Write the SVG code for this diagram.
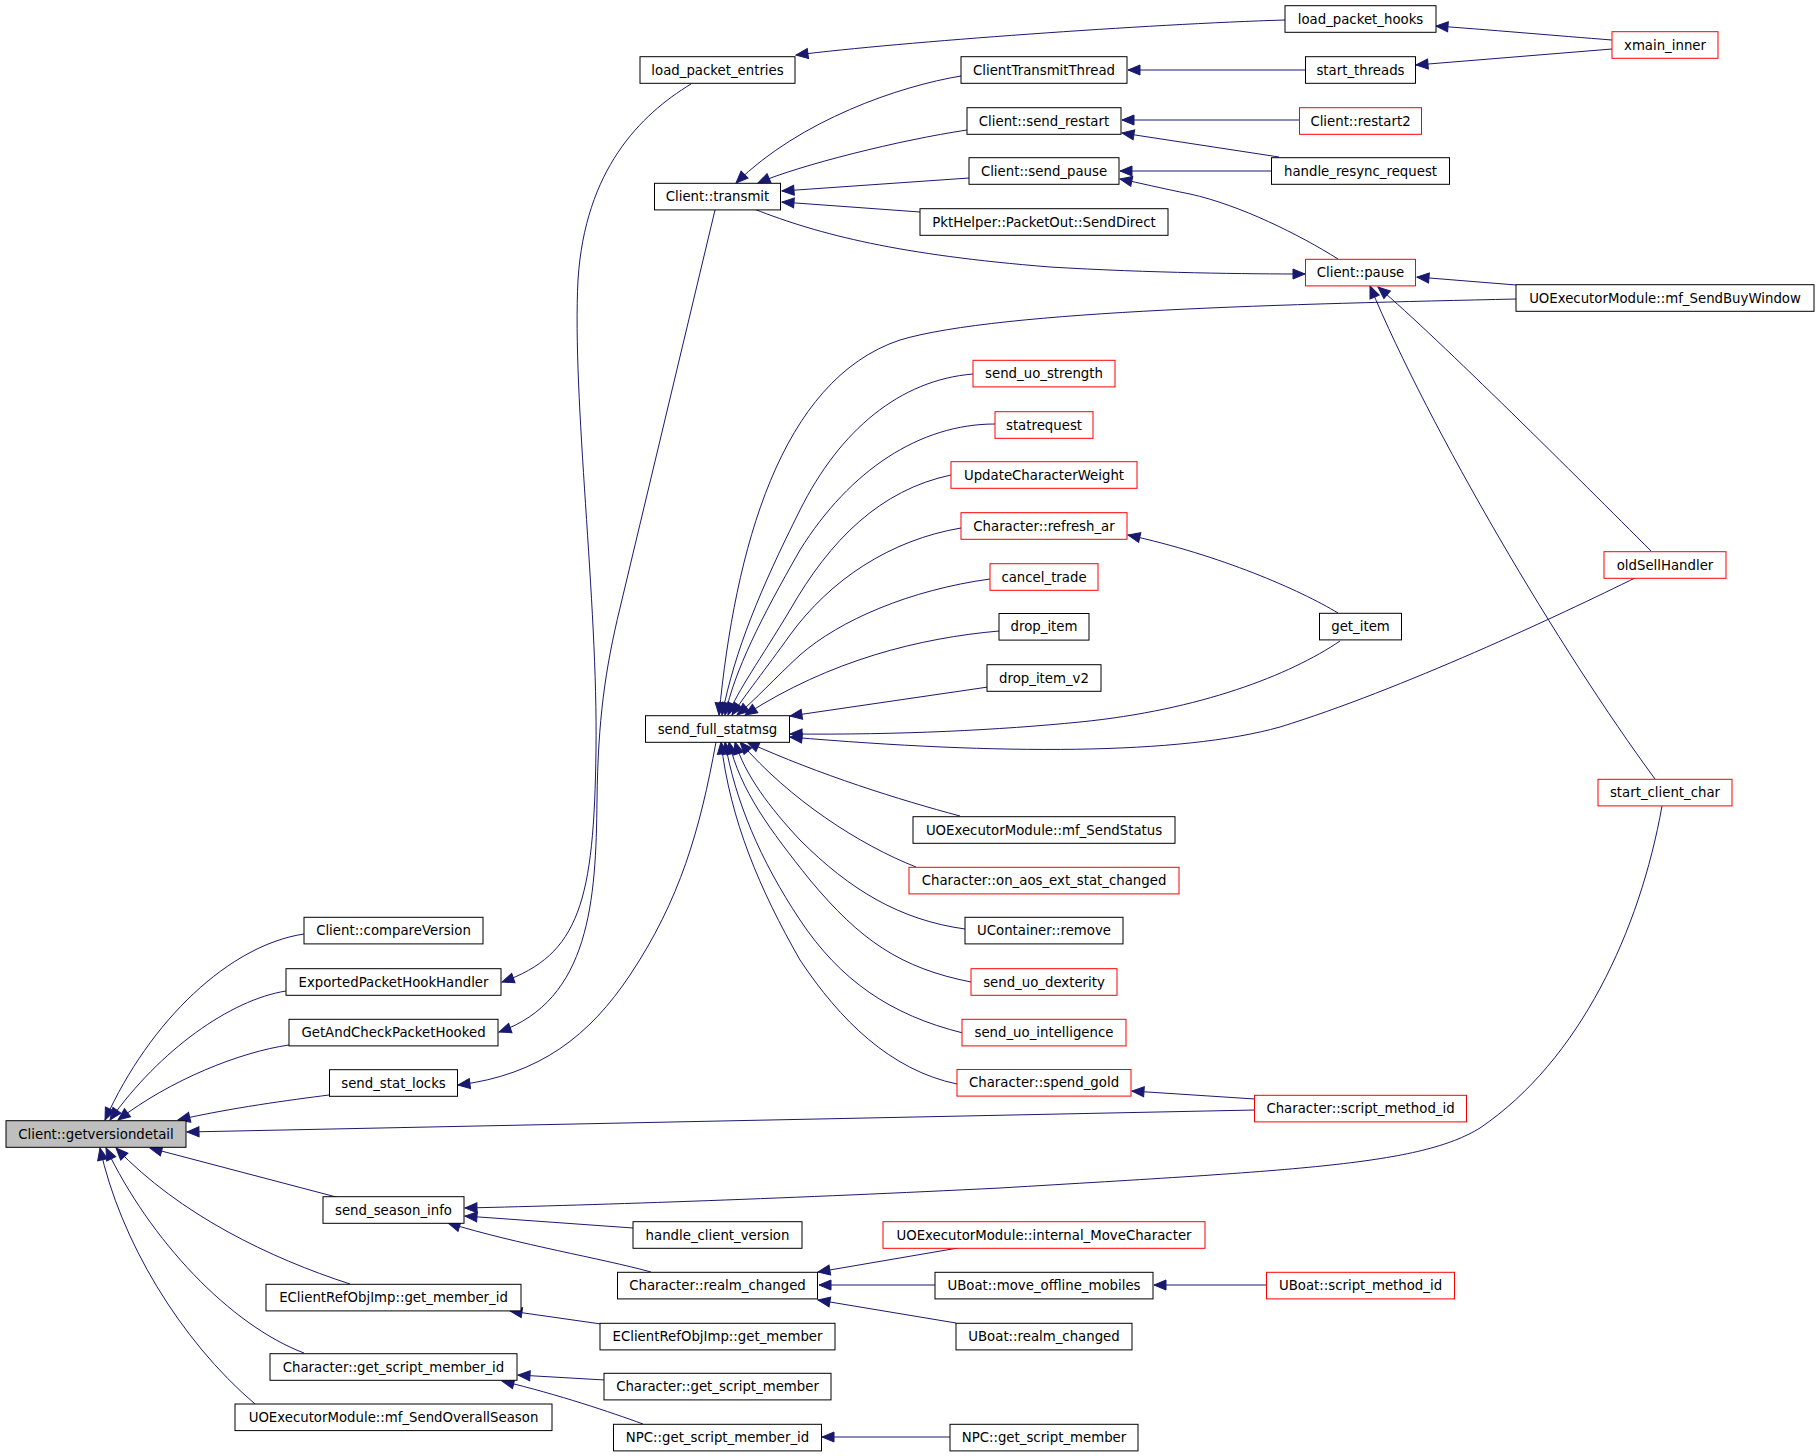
<svg xmlns="http://www.w3.org/2000/svg" width="1819" height="1456" viewBox="0 0 1819 1456">
<style>
.nd rect{fill:#fff;stroke:#000;stroke-width:1}
.nd.red rect{stroke:#f00}
.nd.cur rect{fill:#bfbfbf}
.nd text{font-family:"DejaVu Sans","Liberation Sans",sans-serif;font-size:13.3px;text-anchor:middle;fill:#000}
#edges path{fill:none;stroke:#191970;stroke-width:1;marker-end:url(#arr)}
</style>
<defs>
<marker id="arr" markerUnits="userSpaceOnUse" markerWidth="14" markerHeight="12" refX="12" refY="5" orient="auto" overflow="visible">
<path d="M0,0 L12,5 L0,10 Z" fill="#191970" stroke="#191970" stroke-width="1"/>
</marker>
</defs>
<rect x="0" y="0" width="1819" height="1456" fill="#fff"/>
<g id="edges">
<path d="M1285,20 C1150,24 900,42 796,55"/>
<path d="M1612,40 C1560,36 1480,29 1436,26"/>
<path d="M1612,49 L1416,65"/>
<path d="M1305,70 L1128,70"/>
<path d="M961,76 C900,86 800,120 736,183"/>
<path d="M967,130 C900,140 800,165 758,183"/>
<path d="M969,178 L782,191"/>
<path d="M920,212 L782,202"/>
<path d="M754,209 C820,235 900,255 1050,267 C1150,273 1250,274 1305,274"/>
<path d="M1300,120 L1122,120"/>
<path d="M1279,157 L1122,133"/>
<path d="M1272,171 L1120,171"/>
<path d="M1338,259 C1300,235 1240,205 1190,194 C1160,188 1140,183 1120,179"/>
<path d="M1516,285 L1417,277"/>
<path d="M1651,551 C1580,480 1440,340 1378,287"/>
<path d="M1655,779 C1560,650 1430,430 1370,286"/>
<path d="M1516,299 C1300,304 1000,310 900,340 C780,380 735,550 719,715"/>
<path d="M973,374 C900,380 840,430 800,510 C760,590 735,650 722,715"/>
<path d="M995,424 C920,424 850,470 800,550 C760,620 735,670 725,715"/>
<path d="M951,475 C880,490 830,540 790,610 C760,660 738,690 728,715"/>
<path d="M961,528 C890,540 830,580 790,635 C765,670 745,695 732,715"/>
<path d="M990,579 C910,590 840,620 800,655 C775,678 755,700 737,715"/>
<path d="M999,631 C920,638 830,660 745,715"/>
<path d="M988,687 L790,716"/>
<path d="M1340,641 C1290,675 1200,710 1080,722 C1000,730 900,735 790,734"/>
<path d="M1637,577 C1560,615 1400,690 1280,727 C1180,755 1000,755 790,737"/>
<path d="M1338,613 C1300,590 1220,555 1128,535"/>
<path d="M1255,1099 L1132,1091"/>
<path d="M1255,1110 L187,1132"/>
<path d="M960,816 C900,800 820,775 747,742"/>
<path d="M916,867 C860,845 790,800 740,742"/>
<path d="M965,929 C900,920 850,890 800,840 C770,808 745,775 735,742"/>
<path d="M971,982 C900,968 860,940 810,880 C770,830 740,790 729,742"/>
<path d="M963,1033 C890,1015 840,980 800,920 C760,860 735,800 725,742"/>
<path d="M957,1084 C890,1070 840,1020 800,960 C760,890 730,820 721,742"/>
<path d="M716,742 C700,830 680,900 630,975 C590,1035 540,1075 458,1085"/>
<path d="M691,84 C640,115 585,170 578,280 C572,400 598,600 596,750 C594,900 580,955 502,982"/>
<path d="M715,210 L620,608 C605,670 598,720 597,800 C596,900 590,1000 499,1032"/>
<path d="M304,934 C230,945 150,1020 105,1120"/>
<path d="M286,991 C230,1000 160,1050 110,1120"/>
<path d="M289,1045 C240,1052 170,1080 118,1120"/>
<path d="M329,1095 C290,1100 230,1108 178,1120"/>
<path d="M340,1198 L150,1148"/>
<path d="M350,1284 C270,1258 180,1215 116,1148"/>
<path d="M304,1353 C230,1325 150,1240 106,1148"/>
<path d="M255,1404 C180,1340 120,1240 100,1148"/>
<path d="M1662,806 C1640,930 1580,1060 1480,1128 C1420,1165 1300,1170 1000,1188 C800,1198 600,1205 465,1208"/>
<path d="M633,1228 L465,1216"/>
<path d="M651,1272 C600,1258 520,1245 448,1223"/>
<path d="M958,1248 L818,1272"/>
<path d="M935,1285 L819,1285"/>
<path d="M956,1323 L818,1300"/>
<path d="M1266,1285 L1154,1285"/>
<path d="M601,1324 L510,1311"/>
<path d="M605,1380 L518,1375"/>
<path d="M643,1424 C610,1412 560,1395 502,1381"/>
<path d="M950,1437 L822,1437"/>
</g>
<g id="n_getversiondetail" class="nd cur"><rect x="6" y="1120.7" width="180" height="26.6"/><text x="96" y="1138.5">Client::getversiondetail</text></g>
<g id="n_compareVersion" class="nd"><rect x="304" y="917.3" width="179" height="26.6"/><text x="393.5" y="935.1">Client::compareVersion</text></g>
<g id="n_ExportedPacketHookHandler" class="nd"><rect x="286" y="968.7" width="215" height="26.6"/><text x="393.5" y="986.5">ExportedPacketHookHandler</text></g>
<g id="n_GetAndCheckPacketHooked" class="nd"><rect x="289" y="1019.3" width="209" height="26.6"/><text x="393.5" y="1037.1">GetAndCheckPacketHooked</text></g>
<g id="n_send_stat_locks" class="nd"><rect x="329.5" y="1069.7" width="128" height="26.6"/><text x="393.5" y="1087.5">send_stat_locks</text></g>
<g id="n_send_season_info" class="nd"><rect x="323" y="1196.7" width="141" height="26.6"/><text x="393.5" y="1214.5">send_season_info</text></g>
<g id="n_ecr_get_member_id" class="nd"><rect x="266" y="1284.3" width="255" height="26.6"/><text x="393.5" y="1302.1">EClientRefObjImp::get_member_id</text></g>
<g id="n_chr_get_script_member_id" class="nd"><rect x="270" y="1353.7" width="247" height="26.6"/><text x="393.5" y="1371.5">Character::get_script_member_id</text></g>
<g id="n_mf_SendOverallSeason" class="nd"><rect x="235" y="1404" width="317" height="26.6"/><text x="393.5" y="1421.8">UOExecutorModule::mf_SendOverallSeason</text></g>
<g id="n_load_packet_entries" class="nd"><rect x="640" y="56.7" width="155" height="26.6"/><text x="717.5" y="74.5">load_packet_entries</text></g>
<g id="n_transmit" class="nd"><rect x="654.5" y="183.3" width="126" height="26.6"/><text x="717.5" y="201.1">Client::transmit</text></g>
<g id="n_send_full_statmsg" class="nd"><rect x="645.5" y="715.7" width="144" height="26.6"/><text x="717.5" y="733.5">send_full_statmsg</text></g>
<g id="n_handle_client_version" class="nd"><rect x="633" y="1221.7" width="169" height="26.6"/><text x="717.5" y="1239.5">handle_client_version</text></g>
<g id="n_chr_realm_changed" class="nd"><rect x="617.5" y="1272.3" width="200" height="26.6"/><text x="717.5" y="1290.1">Character::realm_changed</text></g>
<g id="n_ecr_get_member" class="nd"><rect x="600" y="1323.3" width="235" height="26.6"/><text x="717.5" y="1341.1">EClientRefObjImp::get_member</text></g>
<g id="n_chr_get_script_member" class="nd"><rect x="604" y="1373.3" width="227" height="26.6"/><text x="717.5" y="1391.1">Character::get_script_member</text></g>
<g id="n_npc_get_script_member_id" class="nd"><rect x="613.5" y="1424.3" width="208" height="26.6"/><text x="717.5" y="1442.1">NPC::get_script_member_id</text></g>
<g id="n_ClientTransmitThread" class="nd"><rect x="961" y="56.7" width="166" height="26.6"/><text x="1044" y="74.5">ClientTransmitThread</text></g>
<g id="n_send_restart" class="nd"><rect x="967" y="107.7" width="154" height="26.6"/><text x="1044" y="125.5">Client::send_restart</text></g>
<g id="n_send_pause" class="nd"><rect x="969" y="157.7" width="150" height="26.6"/><text x="1044" y="175.5">Client::send_pause</text></g>
<g id="n_SendDirect" class="nd"><rect x="920" y="208.7" width="248" height="26.6"/><text x="1044" y="226.5">PktHelper::PacketOut::SendDirect</text></g>
<g id="n_send_uo_strength" class="nd red"><rect x="973" y="360.3" width="142" height="26.6"/><text x="1044" y="378.1">send_uo_strength</text></g>
<g id="n_statrequest" class="nd red"><rect x="995" y="411.7" width="98" height="26.6"/><text x="1044" y="429.5">statrequest</text></g>
<g id="n_UpdateCharacterWeight" class="nd red"><rect x="951" y="461.7" width="186" height="26.6"/><text x="1044" y="479.5">UpdateCharacterWeight</text></g>
<g id="n_refresh_ar" class="nd red"><rect x="961" y="512.7" width="166" height="26.6"/><text x="1044" y="530.5">Character::refresh_ar</text></g>
<g id="n_cancel_trade" class="nd red"><rect x="990" y="563.7" width="108" height="26.6"/><text x="1044" y="581.5">cancel_trade</text></g>
<g id="n_drop_item" class="nd"><rect x="999" y="613.5" width="90" height="26.6"/><text x="1044" y="631.3">drop_item</text></g>
<g id="n_drop_item_v2" class="nd"><rect x="987" y="664.7" width="114" height="26.6"/><text x="1044" y="682.5">drop_item_v2</text></g>
<g id="n_mf_SendStatus" class="nd"><rect x="913" y="816.7" width="262" height="26.6"/><text x="1044" y="834.5">UOExecutorModule::mf_SendStatus</text></g>
<g id="n_on_aos_ext_stat_changed" class="nd red"><rect x="909" y="867.3" width="270" height="26.6"/><text x="1044" y="885.1">Character::on_aos_ext_stat_changed</text></g>
<g id="n_UContainer_remove" class="nd"><rect x="965" y="917.3" width="158" height="26.6"/><text x="1044" y="935.1">UContainer::remove</text></g>
<g id="n_send_uo_dexterity" class="nd red"><rect x="971" y="968.7" width="146" height="26.6"/><text x="1044" y="986.5">send_uo_dexterity</text></g>
<g id="n_send_uo_intelligence" class="nd red"><rect x="962" y="1019.3" width="164" height="26.6"/><text x="1044" y="1037.1">send_uo_intelligence</text></g>
<g id="n_spend_gold" class="nd red"><rect x="957" y="1069.5" width="174" height="26.6"/><text x="1044" y="1087.3">Character::spend_gold</text></g>
<g id="n_internal_MoveCharacter" class="nd red"><rect x="883" y="1221.7" width="322" height="26.6"/><text x="1044" y="1239.5">UOExecutorModule::internal_MoveCharacter</text></g>
<g id="n_move_offline_mobiles" class="nd"><rect x="935" y="1272.3" width="218" height="26.6"/><text x="1044" y="1290.1">UBoat::move_offline_mobiles</text></g>
<g id="n_uboat_realm_changed" class="nd"><rect x="956" y="1323.3" width="176" height="26.6"/><text x="1044" y="1341.1">UBoat::realm_changed</text></g>
<g id="n_npc_get_script_member" class="nd"><rect x="950" y="1424.3" width="188" height="26.6"/><text x="1044" y="1442.1">NPC::get_script_member</text></g>
<g id="n_load_packet_hooks" class="nd"><rect x="1285" y="5.7" width="151" height="26.6"/><text x="1360.5" y="23.5">load_packet_hooks</text></g>
<g id="n_start_threads" class="nd"><rect x="1305.5" y="56.7" width="110" height="26.6"/><text x="1360.5" y="74.5">start_threads</text></g>
<g id="n_restart2" class="nd red"><rect x="1299.5" y="107.7" width="122" height="26.6"/><text x="1360.5" y="125.5">Client::restart2</text></g>
<g id="n_handle_resync_request" class="nd"><rect x="1271.5" y="157.7" width="178" height="26.6"/><text x="1360.5" y="175.5">handle_resync_request</text></g>
<g id="n_pause" class="nd red"><rect x="1305.5" y="259.3" width="110" height="26.6"/><text x="1360.5" y="277.1">Client::pause</text></g>
<g id="n_get_item" class="nd"><rect x="1319.5" y="613.3" width="82" height="26.6"/><text x="1360.5" y="631.1">get_item</text></g>
<g id="n_chr_script_method_id" class="nd red"><rect x="1254.5" y="1095.3" width="212" height="26.6"/><text x="1360.5" y="1113.1">Character::script_method_id</text></g>
<g id="n_uboat_script_method_id" class="nd red"><rect x="1266.5" y="1272.3" width="188" height="26.6"/><text x="1360.5" y="1290.1">UBoat::script_method_id</text></g>
<g id="n_xmain_inner" class="nd red"><rect x="1612" y="31.7" width="106" height="26.6"/><text x="1665" y="49.5">xmain_inner</text></g>
<g id="n_mf_SendBuyWindow" class="nd"><rect x="1516" y="284.7" width="298" height="26.6"/><text x="1665" y="302.5">UOExecutorModule::mf_SendBuyWindow</text></g>
<g id="n_oldSellHandler" class="nd red"><rect x="1604" y="551.7" width="122" height="26.6"/><text x="1665" y="569.5">oldSellHandler</text></g>
<g id="n_start_client_char" class="nd red"><rect x="1598" y="779.3" width="134" height="26.6"/><text x="1665" y="797.1">start_client_char</text></g>
</svg>
